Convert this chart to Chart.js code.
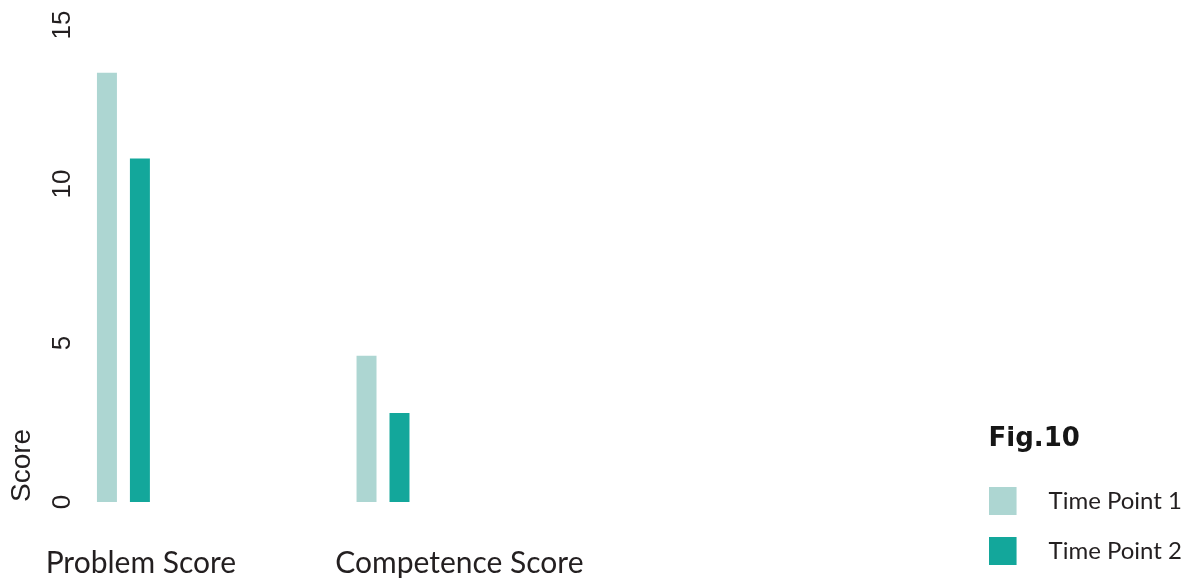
<!DOCTYPE html>
<html>
<head>
<meta charset="utf-8">
<script src="https://cdn.jsdelivr.net/npm/chart.js@4/dist/chart.umd.min.js"></script>
<style>
  html, body { margin: 0; padding: 0; background: #fff; }
  #wrap { width: 1192px; height: 580px; }
</style>
</head>
<body>
<div id="wrap"><canvas id="chart"></canvas></div>
<script>
// values
const categories = ['Problem Score', 'Competence Score'];
const seriesNames = ['Time Point 1', 'Time Point 2'];
const timePoint1 = [13.5, 4.6];
const timePoint2 = [10.8, 2.8];
const yTicks = [0, 5, 10, 15];

const colors = ['#add6d2', '#13a79b'];
const ink = '#231f20';

// legend swatch: square on the left, empty room on the right
function swatch(color) {
  const c = document.createElement('canvas');
  c.width = 74;
  c.height = 28;
  const g = c.getContext('2d');
  g.fillStyle = color;
  g.fillRect(0, 0, 28, 28);
  return c;
}

const toPoints = (values) => values.map((v, i) => ({ x: i, y: v }));
const categoryTicks = (scale) => {
  scale.ticks = categories.map((c, i) => ({ value: i }));
};

const ctx = document.getElementById('chart');

new Chart(ctx, {
  type: 'bar',
  data: {
    datasets: [
      {
        label: seriesNames[0],
        data: toPoints(timePoint1),
        backgroundColor: colors[0],
      },
      {
        label: seriesNames[1],
        data: toPoints(timePoint2),
        backgroundColor: colors[1],
      },
    ],
  },
  options: {
    responsive: true,
    maintainAspectRatio: false,
    animation: false,
    categoryPercentage: 0.254,
    barPercentage: 0.606,
    layout: {
      padding: { top: 25, bottom: -9, left: 0, right: 0 },
    },
    plugins: {
      tooltip: { enabled: false },
      legend: {
        position: 'right',
        align: 'end',
        title: {
          display: true,
          text: 'Fig.10',
          color: '#161616',
          position: 'start',
          font: { family: 'DejaVu Sans', size: 26, weight: 'bold' },
          padding: { top: 0, bottom: 6 },
        },
        labels: {
          color: ink,
          font: { family: 'Lato', size: 24 },
          usePointStyle: true,
          pointStyleWidth: 22,
          padding: 26,
          generateLabels(chart) {
            const items = Chart.defaults.plugins.legend.labels.generateLabels(chart);
            items.forEach((item) => {
              item.pointStyle = swatch(item.fillStyle);
            });
            return items;
          },
        },
      },
    },
    scales: {
      x: {
        type: 'linear',
        display: false,
        offset: false,
        min: -0.1673,
        max: 3.3327,
        afterBuildTicks: categoryTicks,
      },
      x2: {
        type: 'linear',
        axis: 'x',
        position: 'bottom',
        offset: false,
        min: -0.1912,
        max: 2.6614,
        grid: { display: false },
        border: { display: false },
        afterBuildTicks: categoryTicks,
        afterFit(scale) {
          scale.height = 87;
          scale.paddingLeft = 0;
          scale.paddingRight = 0;
        },
        ticks: {
          color: ink,
          font: { family: 'Lato', size: 30 },
          padding: 35,
          maxRotation: 0,
          callback: (value) => categories[value],
        },
      },
      y: {
        min: 0,
        max: 15,
        grid: { display: false },
        border: { display: false },
        afterBuildTicks(scale) {
          scale.ticks = yTicks.map((v) => ({ value: v }));
        },
        afterFit(scale) {
          scale.width = 80;
        },
        ticks: {
          color: ink,
          font: { family: 'Liberation Sans', size: 26 },
          minRotation: 90,
          maxRotation: 90,
          crossAlign: 'center',
          padding: -5,
        },
        title: {
          display: true,
          text: 'Score',
          align: 'start',
          color: ink,
          font: { family: 'Liberation Sans', size: 28 },
          padding: { top: 5, bottom: 0 },
        },
      },
    },
  },
});
</script>
</body>
</html>
